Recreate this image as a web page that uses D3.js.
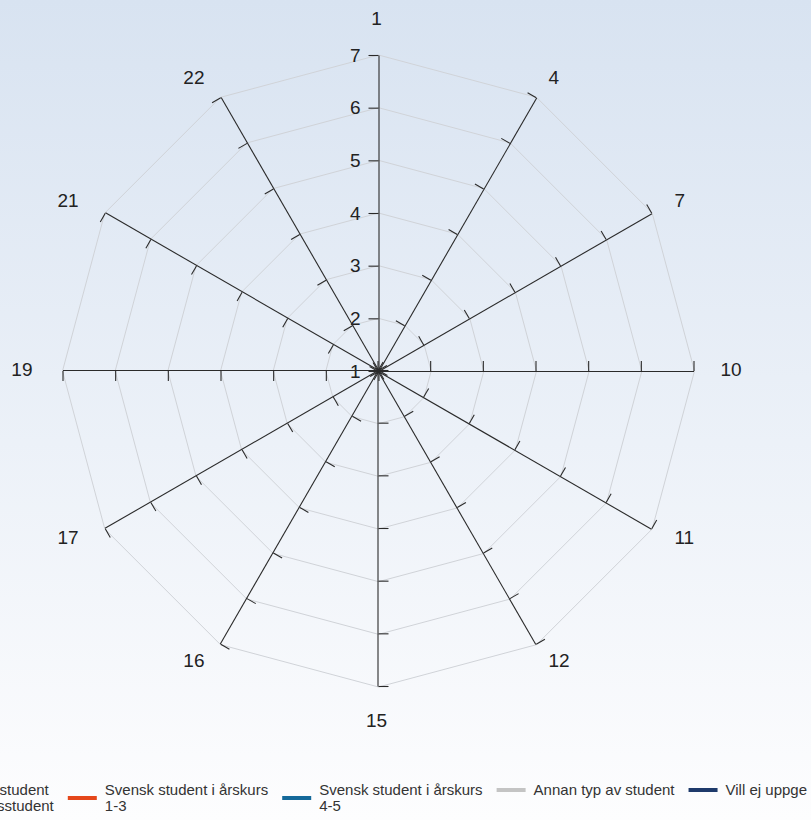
<!DOCTYPE html>
<html>
<head>
<meta charset="utf-8">
<script src="https://cdn.jsdelivr.net/npm/d3@7"></script>
<style>
  html, body { margin: 0; padding: 0; overflow: hidden; }
  svg { display: block; font-family: "Liberation Sans", Arial, sans-serif; }
</style>
</head>
<body>
<svg id="chart" width="811" height="820"></svg>
<script>
// Question numbers shown around the radar
const categories = ["1", "4", "7", "10", "11", "12", "15", "16", "17", "19", "21", "22"];
// Answer scale
const scaleMin = 1;
const scaleMax = 7;
const tickValues = [1, 2, 3, 4, 5, 6, 7];
// Respondent groups (no answers recorded yet, so every series is empty)
const seriesNames = [
  "Masterstudent Utbytesstudent",
  "Svensk student i årskurs 1-3",
  "Svensk student i årskurs 4-5",
  "Annan typ av student",
  "Vill ej uppge"
];
const seriesColors = ["#7f9fc7", "#e5471b", "#14699a", "#c4c4c4", "#1e3a6b"];
const seriesValues = [[], [], [], [], []];

const W = 811, H = 820;
const cx = 378.5, cy = 371, R = 316;
const svg = d3.select("#chart");

// Background gradient
const defs = svg.append("defs");
const grad = defs.append("linearGradient").attr("id", "bg")
  .attr("x1", 0).attr("y1", 0).attr("x2", 0).attr("y2", 1);
grad.append("stop").attr("offset", "0%").attr("stop-color", "#d8e3f1");
grad.append("stop").attr("offset", "100%").attr("stop-color", "#fdfdfe");
svg.append("rect").attr("width", W).attr("height", H).attr("fill", "url(#bg)");

const angle = d3.scalePoint().domain(categories).range([0, 360 - 360 / categories.length]);
const r = d3.scaleLinear().domain([scaleMin, scaleMax]).range([0, R]);
const rAxis = d3.scaleLinear().domain([scaleMin, scaleMax]).range([0, -R]);

const toXY = (cat, v) => {
  const a = angle(cat) * Math.PI / 180;
  return [cx + r(v) * Math.sin(a), cy - r(v) * Math.cos(a)];
};

// Grid polygons
const gridG = svg.append("g");
tickValues.filter(v => v > scaleMin).forEach(v => {
  gridG.append("path")
    .attr("d", d3.line()(categories.map(c => toXY(c, v))) + "Z")
    .attr("fill", "none")
    .attr("stroke", "#d0d3d8")
    .attr("stroke-width", 1);
});

// Spokes, each a rotated D3 axis
categories.forEach((c, i) => {
  const g = svg.append("g")
    .attr("transform", `translate(${cx},${cy}) rotate(${angle(c)})`)
    .call(d3.axisLeft(rAxis).tickValues(tickValues).tickSize(10).tickSizeOuter(0).tickPadding(8)
      .tickFormat(d3.format("d")));
  g.select(".domain").attr("stroke", "#2a2a2a").attr("stroke-width", 1.1);
  g.selectAll(".tick line").attr("stroke", "#2a2a2a").attr("stroke-width", 1.1);
  if (i === 0) {
    g.selectAll(".tick text")
      .attr("font-size", 19)
      .attr("font-family", "'Liberation Sans', Arial, sans-serif")
      .attr("fill", "#222");
  } else {
    g.selectAll(".tick text").remove();
  }
});

// Series lines (drawn from the values, empty here)
const lineGen = d3.line().curve(d3.curveLinearClosed);
seriesValues.forEach((vals, si) => {
  if (!vals.length) return;
  svg.append("path")
    .attr("d", lineGen(vals.map((v, k) => toXY(categories[k], v))))
    .attr("fill", "none").attr("stroke", seriesColors[si]).attr("stroke-width", 2);
});

// Category labels: side labels aligned away from the chart, top/bottom centred
const labCx = 376.5, labDx = 344, labDy = 337, labShift = -2, vertPad = 14;
svg.append("g").selectAll("text").data(categories).join("text")
  .each(function (d) {
    const a = angle(d) * Math.PI / 180;
    const s = Math.sin(a), co = Math.cos(a);
    const vertical = Math.abs(s) < 0.01;
    d3.select(this)
      .attr("x", labCx + labDx * s)
      .attr("y", cy - labDy * co + labShift - (vertical ? vertPad * Math.sign(co) : 0))
      .attr("text-anchor", vertical ? "middle" : (s > 0 ? "start" : "end"));
  })
  .attr("dominant-baseline", "central")
  .attr("font-size", 19)
  .attr("fill", "#222")
  .text(d => d);

// Legend: wrapped labels, laid out right to left from the right edge
const legendFont = 15, lineH = 16, maxTextW = 170, swatchW = 29, swatchGap = 8, itemGap = 14;
const legendRight = 807, legendTop = 795;
const legendG = svg.append("g");
const items = seriesNames.map((name, i) => {
  const g = legendG.append("g");
  const t = g.append("text").attr("font-size", legendFont).attr("fill", "#333")
    .attr("x", swatchW + swatchGap).attr("y", 0);
  // word wrap
  const words = name.split(" ");
  let lines = [], cur = "";
  words.forEach(w => {
    const test = cur ? cur + " " + w : w;
    t.text(test);
    if (t.node().getComputedTextLength() > maxTextW && cur) { lines.push(cur); cur = w; }
    else cur = test;
  });
  lines.push(cur);
  t.text(null);
  lines.forEach((ln, k) => t.append("tspan").attr("x", swatchW + swatchGap).attr("y", k * lineH).text(ln));
  const textW = d3.max(t.selectAll("tspan").nodes(), n => n.getComputedTextLength());
  const midY = -5 + (lines.length - 1) * lineH / 2;
  g.append("line").attr("x1", 0).attr("x2", swatchW).attr("y1", midY).attr("y2", midY)
    .attr("stroke", seriesColors[i]).attr("stroke-width", 4);
  return { g, width: swatchW + swatchGap + textW };
});
let xPos = legendRight;
for (let i = items.length - 1; i >= 0; i--) {
  xPos -= items[i].width;
  items[i].g.attr("transform", `translate(${xPos},${legendTop})`);
  xPos -= itemGap;
}
</script>
</body>
</html>
